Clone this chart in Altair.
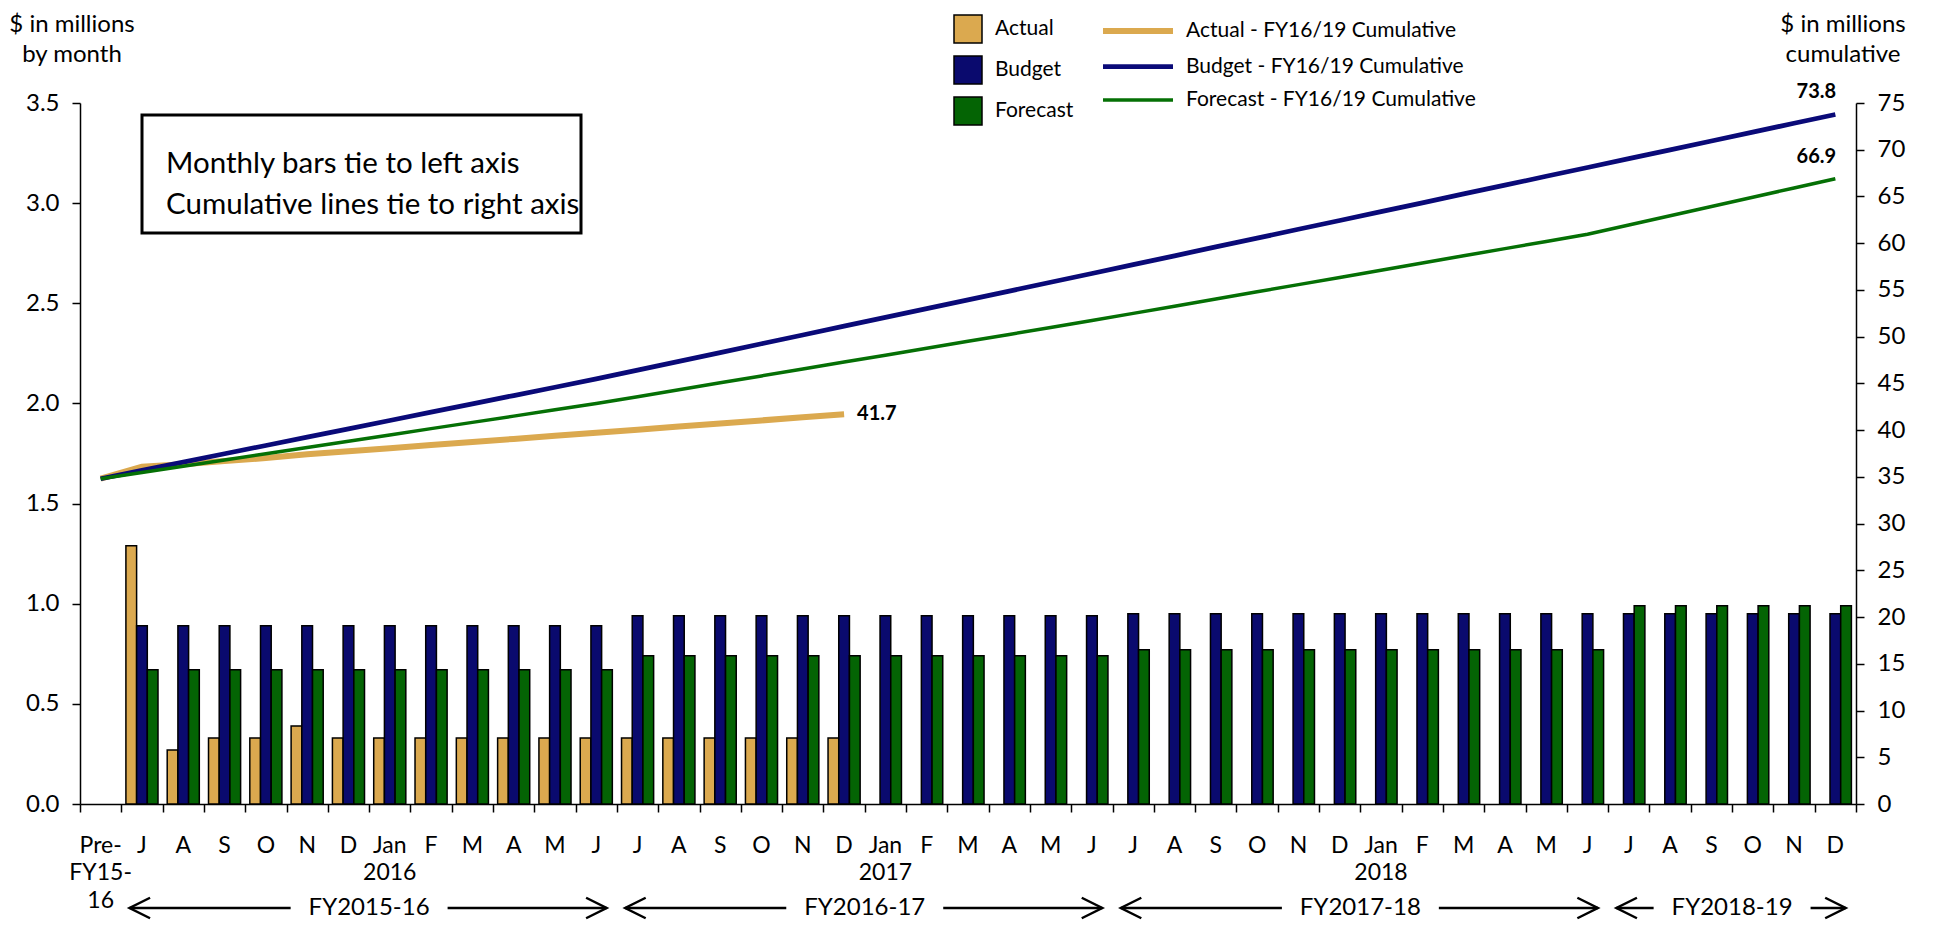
import altair as alt
import pandas as pd

FONT = "Lato"

# ---------------- data ----------------
categories = [
    "Pre-FY15-16",
    "2015-07", "2015-08", "2015-09", "2015-10", "2015-11", "2015-12",
    "2016-01", "2016-02", "2016-03", "2016-04", "2016-05", "2016-06",
    "2016-07", "2016-08", "2016-09", "2016-10", "2016-11", "2016-12",
    "2017-01", "2017-02", "2017-03", "2017-04", "2017-05", "2017-06",
    "2017-07", "2017-08", "2017-09", "2017-10", "2017-11", "2017-12",
    "2018-01", "2018-02", "2018-03", "2018-04", "2018-05", "2018-06",
    "2018-07", "2018-08", "2018-09", "2018-10", "2018-11", "2018-12",
]

month_labels = [
    "Pre-",
    "J", "A", "S", "O", "N", "D", "Jan", "F", "M", "A", "M", "J",
    "J", "A", "S", "O", "N", "D", "Jan", "F", "M", "A", "M", "J",
    "J", "A", "S", "O", "N", "D", "Jan", "F", "M", "A", "M", "J",
    "J", "A", "S", "O", "N", "D",
]
second_line_labels = [
    "FY15-",
    "", "", "", "", "", "", "2016", "", "", "", "", "",
    "", "", "", "", "", "", "2017", "", "", "", "", "",
    "", "", "", "", "", "", "2018", "", "", "", "", "",
    "", "", "", "", "", "",
]
third_line_labels = ["16"] + [""] * 42

bar_series = ["Actual", "Budget", "Forecast"]
actual_monthly = [
    None,
    1.29, 0.27, 0.33, 0.33, 0.39, 0.33, 0.33, 0.33, 0.33, 0.33, 0.33, 0.33,
    0.33, 0.33, 0.33, 0.33, 0.33, 0.33, None, None, None, None, None, None,
    None, None, None, None, None, None, None, None, None, None, None, None,
    None, None, None, None, None, None,
]
budget_monthly = [
    None,
    0.89, 0.89, 0.89, 0.89, 0.89, 0.89, 0.89, 0.89, 0.89, 0.89, 0.89, 0.89,
    0.94, 0.94, 0.94, 0.94, 0.94, 0.94, 0.94, 0.94, 0.94, 0.94, 0.94, 0.94,
    0.95, 0.95, 0.95, 0.95, 0.95, 0.95, 0.95, 0.95, 0.95, 0.95, 0.95, 0.95,
    0.95, 0.95, 0.95, 0.95, 0.95, 0.95,
]
forecast_monthly = [
    None,
    0.67, 0.67, 0.67, 0.67, 0.67, 0.67, 0.67, 0.67, 0.67, 0.67, 0.67, 0.67,
    0.74, 0.74, 0.74, 0.74, 0.74, 0.74, 0.74, 0.74, 0.74, 0.74, 0.74, 0.74,
    0.77, 0.77, 0.77, 0.77, 0.77, 0.77, 0.77, 0.77, 0.77, 0.77, 0.77, 0.77,
    0.99, 0.99, 0.99, 0.99, 0.99, 0.99,
]

line_series = [
    "Actual - FY16/19 Cumulative",
    "Budget - FY16/19 Cumulative",
    "Forecast - FY16/19 Cumulative",
]
actual_cumulative = [
    34.80,
    36.09, 36.36, 36.69, 37.02, 37.41, 37.74, 38.07, 38.40, 38.73, 39.06, 39.39, 39.72,
    40.05, 40.38, 40.71, 41.04, 41.37, 41.70,
]
budget_cumulative = [
    34.80,
    35.69, 36.58, 37.47, 38.36, 39.25, 40.14, 41.03, 41.92, 42.81, 43.70, 44.59, 45.48,
    46.42, 47.36, 48.30, 49.24, 50.18, 51.12, 52.06, 53.00, 53.94, 54.88, 55.82, 56.76,
    57.71, 58.65, 59.60, 60.54, 61.49, 62.43, 63.38, 64.32, 65.27, 66.21, 67.16, 68.10,
    69.05, 69.99, 70.94, 71.88, 72.83, 73.77,
]
forecast_cumulative = [
    34.80,
    35.47, 36.14, 36.81, 37.48, 38.15, 38.82, 39.49, 40.16, 40.83, 41.50, 42.17, 42.84,
    43.58, 44.32, 45.06, 45.80, 46.54, 47.28, 48.02, 48.76, 49.50, 50.24, 50.98, 51.72,
    52.49, 53.26, 54.03, 54.80, 55.57, 56.34, 57.11, 57.88, 58.65, 59.42, 60.19, 60.96,
    61.95, 62.94, 63.93, 64.92, 65.91, 66.90,
]

fy_names = ["FY2015-16", "FY2016-17", "FY2017-18", "FY2018-19"]
fy_first_band = [1, 13, 25, 37]
fy_end_band = [13, 25, 37, 43]

left_ticks = [0.0, 0.5, 1.0, 1.5, 2.0, 2.5, 3.0, 3.5]
right_ticks = [0, 5, 10, 15, 20, 25, 30, 35, 40, 45, 50, 55, 60, 65, 70, 75]

bar_colors = ["#DBA94F", "#0A0A6E", "#046404"]
line_colors = ["#DBA94F", "#0A0A78", "#057005"]
line_widths = [6, 3.5, 3.5]

# ---------------- tables ----------------
bar_rows = []
for s, vals in zip(bar_series, [actual_monthly, budget_monthly, forecast_monthly]):
    for c, v in zip(categories, vals):
        if v is not None:
            bar_rows.append({"cat": c, "series": s, "value": v})
bars_df = pd.DataFrame(bar_rows)

line_rows = []
end_rows = []
for s, vals in zip(line_series, [actual_cumulative, budget_cumulative, forecast_cumulative]):
    for i, v in enumerate(vals):
        line_rows.append({"cat": categories[i], "idx": i, "series": s, "value": v})
    end_rows.append({"cat": categories[len(vals) - 1], "series": s,
                     "value": vals[-1], "text": f"{vals[-1]:.1f}"})
lines_df = pd.DataFrame(line_rows)
end_df = pd.DataFrame(end_rows)

xlab_df = pd.DataFrame({"cat": categories, "l1": month_labels,
                        "l2": second_line_labels, "l3": third_line_labels})
fy_df = pd.DataFrame({"name": fy_names, "first": fy_first_band, "end": fy_end_band})
one = pd.DataFrame({"t": ["x"]})

# ---------------- scales ----------------
x_scale = alt.Scale(domain=categories, type="band", paddingInner=0, paddingOuter=0)
pos_scale = alt.Scale(domain=[0, 43], nice=False, zero=False)
left_scale = alt.Scale(domain=[0, 3.5], nice=False, zero=True)
right_scale = alt.Scale(domain=[0, 75], nice=False, zero=True)

# ---------------- layers ----------------
bars = alt.Chart(bars_df).mark_bar(stroke="black", strokeWidth=1.5).encode(
    x=alt.X("cat:N", scale=x_scale, title=None,
            axis=alt.Axis(labels=False, tickBand="extent", tickSize=8, tickWidth=1.5,
                          tickColor="black", domainColor="black", domainWidth=1.5,
                          grid=False)),
    xOffset=alt.XOffset("series:N",
                        scale=alt.Scale(domain=bar_series, paddingInner=0, paddingOuter=0.43)),
    y=alt.Y("value:Q", scale=left_scale, title=None,
            axis=alt.Axis(orient="left", values=left_ticks, format=".1f", tickSize=8,
                          tickWidth=1.5, tickColor="black", domainColor="black",
                          domainWidth=1.5, labelFontSize=24, labelColor="black",
                          labelPadding=13, grid=False, labelFont=FONT)),
    fill=alt.Fill("series:N", scale=alt.Scale(domain=bar_series, range=bar_colors),
                  legend=alt.Legend(title=None, orient="none", legendX=873, legendY=-89,
                                    symbolType="square", symbolSize=784,
                                    symbolStrokeColor="black", symbolStrokeWidth=1.5,
                                    labelFontSize=21, labelFont=FONT, labelColor="black",
                                    rowPadding=7, labelOffset=12, padding=0,
                                    labelLimit=400)),
)

stroke_legend = alt.Legend(title=None, orient="none", legendX=1041, legendY=-89,
                           symbolType="M-2.5,0L2.5,0", symbolSize=784,
                           labelFontSize=21, labelFont=FONT, labelColor="black",
                           rowPadding=7, labelOffset=31, padding=0, labelLimit=500)

lines = alt.Chart(lines_df).mark_line().encode(
    x=alt.X("cat:N", scale=x_scale, axis=None),
    y=alt.Y("value:Q", scale=right_scale, title=None,
            axis=alt.Axis(orient="right", values=right_ticks, format="d", tickSize=8,
                          tickWidth=1.5, tickColor="black", domainColor="black",
                          domainWidth=1.5, labelFontSize=24, labelColor="black",
                          labelPadding=13, grid=False, labelFont=FONT)),
    stroke=alt.Stroke("series:N", scale=alt.Scale(domain=line_series, range=line_colors),
                      legend=stroke_legend),
    strokeWidth=alt.StrokeWidth("series:N",
                                scale=alt.Scale(domain=line_series, range=line_widths),
                                legend=stroke_legend),
    order=alt.Order("idx:Q"),
)

end_actual = alt.Chart(end_df).transform_filter(
    alt.datum.series == line_series[0]
).mark_text(font=FONT, fontSize=20, fontWeight="bold", align="left", dx=13,
            baseline="middle", color="black").encode(
    x=alt.X("cat:N", scale=x_scale, axis=None),
    y=alt.Y("value:Q", scale=right_scale, axis=None),
    text="text:N",
)
end_other = alt.Chart(end_df).transform_filter(
    alt.datum.series != line_series[0]
).mark_text(font=FONT, fontSize=20, fontWeight="bold", align="center", dx=-19, dy=-22,
            baseline="middle", color="black").encode(
    x=alt.X("cat:N", scale=x_scale, axis=None),
    y=alt.Y("value:Q", scale=right_scale, axis=None),
    text="text:N",
)

def xrow(col, yv):
    return alt.Chart(xlab_df).mark_text(font=FONT, fontSize=23, baseline="middle",
                                        color="black").encode(
        x=alt.X("cat:N", scale=x_scale, axis=None),
        y=alt.value(yv),
        text=f"{col}:N",
    )

row1 = xrow("l1", 743)
row2 = xrow("l2", 770)
row3 = xrow("l3", 798)

fy_base = alt.Chart(fy_df).transform_calculate(
    mid="(datum.first + datum.end) / 2",
    lt="datum.first + 0.2",
    rt="datum.end - 0.25",
    lgap="(datum.first + datum.end) / 2 - 1.9",
    rgap="(datum.first + datum.end) / 2 + 1.9",
)
fy_text = fy_base.mark_text(font=FONT, fontSize=24, baseline="middle", color="black").encode(
    x=alt.X("mid:Q", scale=pos_scale, axis=None), y=alt.value(805), text="name:N")
shaft_l = fy_base.mark_rule(strokeWidth=2.5, color="black").encode(
    x=alt.X("lt:Q", scale=pos_scale, axis=None), x2="lgap:Q", y=alt.value(805))
shaft_r = fy_base.mark_rule(strokeWidth=2.5, color="black").encode(
    x=alt.X("rgap:Q", scale=pos_scale, axis=None), x2="rt:Q", y=alt.value(805))
head_l = fy_base.mark_point(shape="M2,-1L0,0L2,1", filled=False, size=420, stroke="black",
                            strokeWidth=2.5, opacity=1).encode(
    x=alt.X("lt:Q", scale=pos_scale, axis=None), y=alt.value(805))
head_r = fy_base.mark_point(shape="M-2,-1L0,0L-2,1", filled=False, size=420, stroke="black",
                            strokeWidth=2.5, opacity=1).encode(
    x=alt.X("rt:Q", scale=pos_scale, axis=None), y=alt.value(805))

box = alt.Chart(one).mark_rect(fill="white", fillOpacity=0, stroke="black", strokeWidth=3).encode(
    x=alt.value(62), x2=alt.value(501), y=alt.value(12), y2=alt.value(130))
box_text = alt.Chart(one).mark_text(
    font=FONT, fontSize=29.5, align="left", baseline="middle", lineBreak="\n", lineHeight=41,
    color="black", text="Monthly bars tie to left axis\nCumulative lines tie to right axis",
).encode(x=alt.value(86), y=alt.value(61))

left_title = alt.Chart(one).mark_text(
    font=FONT, fontSize=24, align="center", baseline="middle", lineBreak="\n", lineHeight=30,
    color="black", text="$ in millions\nby month",
).encode(x=alt.value(-8), y=alt.value(-78))
right_title = alt.Chart(one).mark_text(
    font=FONT, fontSize=24, align="center", baseline="middle", lineBreak="\n", lineHeight=30,
    color="black", text="$ in millions\ncumulative",
).encode(x=alt.value(1763), y=alt.value(-78))

chart = alt.layer(
    bars, lines, end_actual, end_other, row1, row2, row3,
    fy_text, shaft_l, shaft_r, head_l, head_r,
    box, box_text, left_title, right_title,
).resolve_scale(
    x="independent", y="independent"
).properties(
    width=1776, height=701,
    autosize=alt.AutoSizeParams(type="none"),
    padding={"left": 72, "top": 95, "right": 76, "bottom": 116},
).configure(font=FONT).configure_view(stroke=None)

chart.save("out.html", embed_options={"renderer": "svg", "actions": False})
